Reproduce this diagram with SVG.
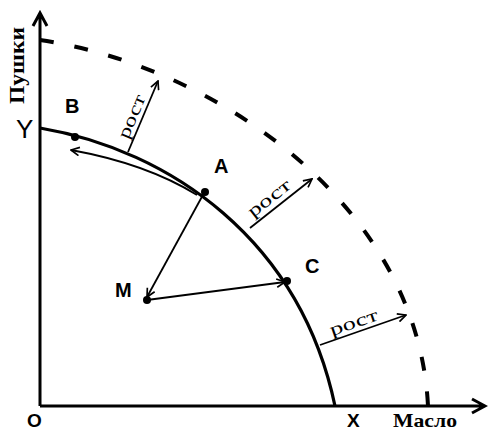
<svg xmlns="http://www.w3.org/2000/svg" width="488" height="432" viewBox="0 0 488 432">
<style>
.ax{stroke:#000;stroke-width:3;fill:none}
.ppf{stroke:#000;stroke-width:3.2;fill:none}
.new{stroke:#000;stroke-width:4;fill:none;stroke-dasharray:14 21}
.thin{stroke:#000;stroke-width:1.8;fill:none}
.lbl{font-family:"Liberation Sans",Arial,sans-serif;font-size:20px;font-weight:bold;fill:#000}
.ser{font-family:"Liberation Serif","Times New Roman",serif;fill:#000}
.dot{fill:#000}
</style>
<defs>
<marker id="ah" viewBox="0 0 12 12" refX="11" refY="6" markerWidth="10" markerHeight="10" markerUnits="userSpaceOnUse" orient="auto">
<path d="M1,1 L11,6 L1,11" fill="none" stroke="#000" stroke-width="2"/>
</marker>
</defs>
<g id="axes">
<path class="ax" d="M40,406 V13 M33,26 L40,13 L47,26"/>
<path class="ax" d="M40,406 H485 M472,399 L485,406 L472,413"/>
</g>
<g id="curves">
<path id="ppf" class="ppf" d="M40,128 C170,150 300,240 335,406"/>
<path id="ppf2" class="new" d="M40,40 C210,65 418,202 428,406"/>
</g>
<g id="connectors">
<path class="thin" marker-end="url(#ah)" d="M128,152 L158,81"/>
<path class="thin" marker-end="url(#ah)" d="M250,228 L312,179"/>
<path class="thin" marker-end="url(#ah)" d="M320,345 L406,315"/>
<path class="thin" marker-end="url(#ah)" d="M204,193 L147,297"/>
<path class="thin" marker-end="url(#ah)" d="M147,300 L285,282"/>
<path class="thin" marker-end="url(#ah)" d="M197,195 C160,172 115,158 71,150"/>
</g>
<g id="point-B"><circle class="dot" cx="75" cy="137" r="4"/><text class="lbl" x="65" y="113">B</text></g>
<g id="point-A"><circle class="dot" cx="205" cy="192" r="4"/><text class="lbl" x="214" y="173">A</text></g>
<g id="point-C"><circle class="dot" cx="287" cy="281" r="4"/><text class="lbl" x="305" y="273">C</text></g>
<g id="point-M"><circle class="dot" cx="147" cy="300" r="4"/><text class="lbl" x="115" y="297">M</text></g>
<g id="labels">
<text class="lbl" x="16" y="138" style="font-size:26px;font-weight:normal">Y</text>
<text class="lbl" x="27" y="427" style="font-size:19px">O</text>
<text class="lbl" x="347" y="427" style="font-size:19px">X</text>
<text class="ser" x="393" y="427" font-size="19" font-weight="bold" textLength="64" lengthAdjust="spacingAndGlyphs">Масло</text>
<text class="ser" transform="translate(24,104) rotate(-90)" font-size="21" font-weight="bold" textLength="77" lengthAdjust="spacingAndGlyphs">Пушки</text>
<text class="ser" font-size="18" textLength="46" lengthAdjust="spacingAndGlyphs" transform="translate(128,140) rotate(-67)">рост</text>
<text class="ser" font-size="18" textLength="50" lengthAdjust="spacingAndGlyphs" transform="translate(253,218) rotate(-38)">рост</text>
<text class="ser" font-size="18" textLength="50" lengthAdjust="spacingAndGlyphs" transform="translate(332,336) rotate(-19)">рост</text>
</g>
</svg>
